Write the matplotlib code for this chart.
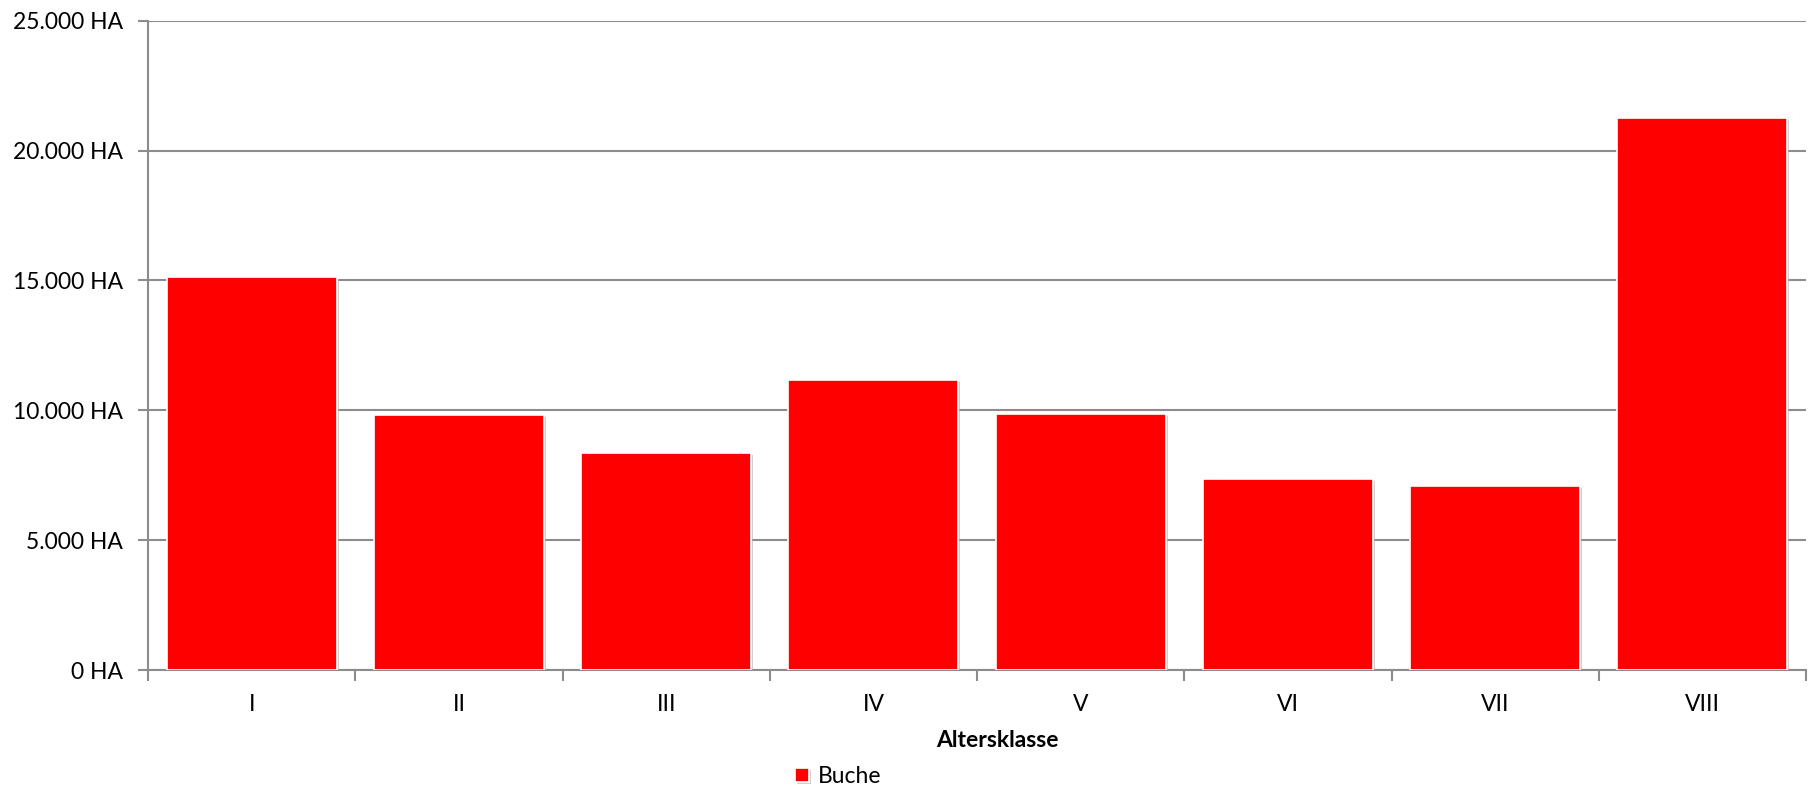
import matplotlib
matplotlib.use("Agg")
import matplotlib.pyplot as plt
import matplotlib.patheffects as pe
import numpy as np

klassen = ["I", "II", "III", "IV", "V", "VI", "VII", "VIII"]
buche = [15150, 9820, 8360, 11150, 9860, 7360, 7090, 21250]
y_ticks = [0, 5000, 10000, 15000, 20000, 25000]

plt.rcParams["font.family"] = ["Lato", "DejaVu Sans"]
fs = 16.5

fig = plt.figure(figsize=(18.14, 7.89), dpi=100)
ax = fig.add_axes([0.0816, 0.1508, 0.914, 0.823])

x = np.arange(len(klassen))
shadow = [pe.SimplePatchShadow(offset=(1.5, -1.5), shadow_rgbFace="#b0b0b0", alpha=0.6), pe.Normal()]
bars = ax.bar(x, buche, width=0.82, color="#ff0000", edgecolor="white", linewidth=1.2,
              label="Buche", zorder=3)
for b in bars:
    b.set_path_effects(shadow)

ax.set_xlim(-0.5, len(klassen) - 0.5)
ax.set_ylim(0, 25000)
ax.set_yticks(y_ticks)
ax.set_yticklabels([f"{v:,.0f} HA".replace(",", ".") for v in y_ticks])
ax.yaxis.grid(True, color="#8c8c8c", linewidth=1.5, zorder=0)
ax.set_axisbelow(True)

ax.set_xticks(np.arange(len(klassen) + 1) - 0.5)
ax.set_xticklabels([])
ax.set_xticks(x, minor=True)
ax.set_xticklabels(klassen, minor=True)
ax.tick_params(axis="x", which="major", length=8, width=1.5, color="#8c8c8c", direction="out")
ax.tick_params(axis="x", which="minor", length=0, pad=17, labelsize=fs)
ax.tick_params(axis="y", length=7, width=1.5, color="#8c8c8c", pad=11, labelsize=fs)

for s in ["top", "right"]:
    ax.spines[s].set_visible(False)
for s in ["left", "bottom"]:
    ax.spines[s].set_color("#8c8c8c")
    ax.spines[s].set_linewidth(1.5)

ax.set_xlabel("Altersklasse", fontsize=fs, fontweight="bold", labelpad=11, x=0.512)

fig.legend(handles=[bars], labels=["Buche"], loc="center", bbox_to_anchor=(0.462, 0.016),
           frameon=False, fontsize=fs, handlelength=0.6, handleheight=0.6, handletextpad=0.4)

fig.savefig("out.png", dpi=100)
